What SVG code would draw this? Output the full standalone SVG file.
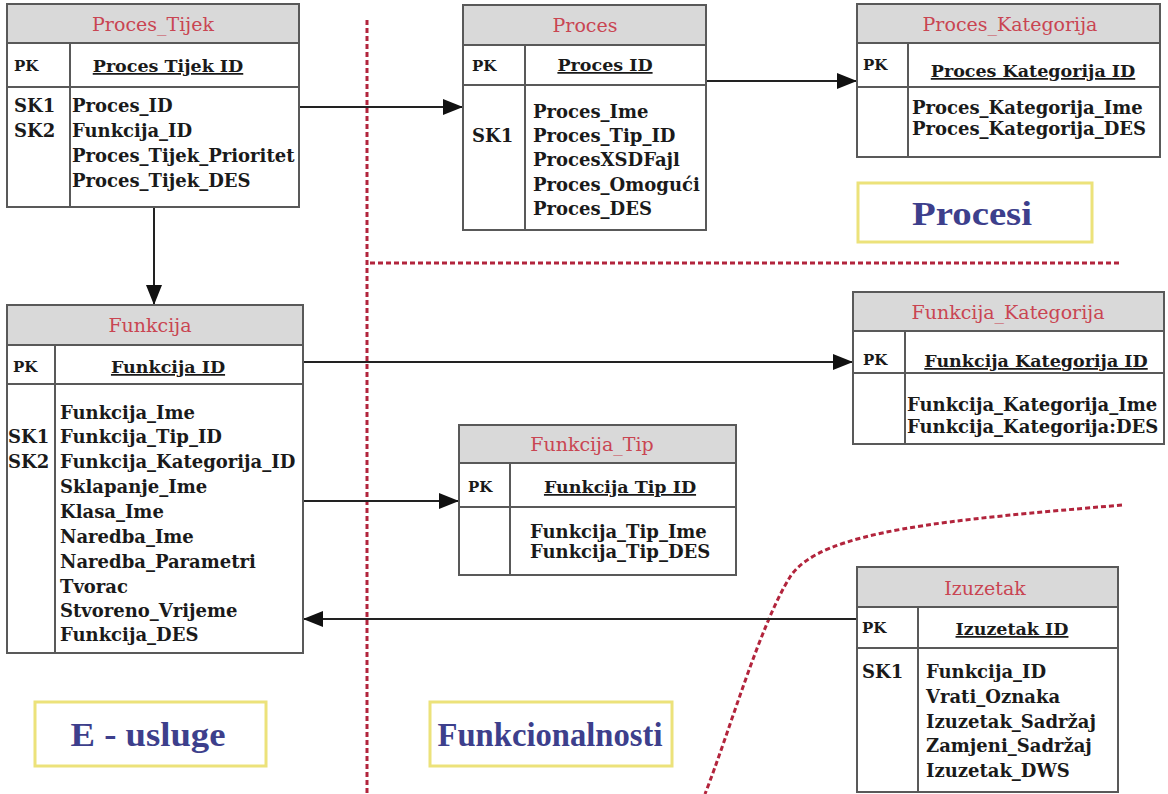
<svg xmlns="http://www.w3.org/2000/svg" width="1168" height="794" viewBox="0 0 1168 794">
<defs>
<style>
.box{fill:#fff;stroke:#595959;stroke-width:2}
.hdr{fill:#d9d9d9;stroke:#595959;stroke-width:2}
.ln{stroke:#595959;stroke-width:2}
.title{font-family:"DejaVu Serif",serif;font-size:19px;fill:#c94552;text-anchor:middle}
.pk{font-family:"DejaVu Serif",serif;font-weight:bold;font-size:15px;fill:#1a1a1a}
.key{font-family:"DejaVu Serif",serif;font-weight:bold;font-size:17.5px;fill:#1a1a1a;text-anchor:middle;text-decoration:underline}
.f{font-family:"DejaVu Serif",serif;font-weight:bold;font-size:18px;fill:#1a1a1a}
.lab{fill:#fff;stroke:#ece27a;stroke-width:3}
.labt{font-family:"Liberation Serif",serif;font-weight:bold;font-size:34px;fill:#3d3f8c;text-anchor:middle}
.sep{fill:none;stroke:#b2243c;stroke-width:3;stroke-dasharray:5 3}
.conn{fill:none;stroke:#222;stroke-width:2}
</style>
<marker id="arr" markerUnits="userSpaceOnUse" markerWidth="22" markerHeight="18" refX="20" refY="8" orient="auto">
<path d="M0,0 L20,8 L0,16 z" fill="#111"/>
</marker>
</defs>
<rect width="1168" height="794" fill="#fff"/>

<g id="separators">
<path class="sep" d="M367,20 V794"/>
<path class="sep" d="M370,263 H1120"/>
<path class="sep" d="M1122,505 C950,520 820,530 790,577 C760,625 730,730 705,794"/>
</g>

<g id="labels">
<g id="label-procesi"><rect class="lab" x="858" y="183" width="234" height="59"/><text class="labt" x="972" y="225" textLength="120" lengthAdjust="spacingAndGlyphs">Procesi</text></g>
<g id="label-eusluge"><rect class="lab" x="35" y="702" width="231" height="64"/><text class="labt" x="148" y="746" textLength="155" lengthAdjust="spacingAndGlyphs">E - usluge</text></g>
<g id="label-funkcionalnosti"><rect class="lab" x="430" y="702" width="242" height="64"/><text class="labt" x="550" y="746" textLength="225" lengthAdjust="spacingAndGlyphs">Funkcionalnosti</text></g>
</g>

<g id="connectors">
<path class="conn" d="M299,107 H463" marker-end="url(#arr)"/>
<path class="conn" d="M706,81 H857" marker-end="url(#arr)"/>
<path class="conn" d="M154,207 V305" marker-end="url(#arr)"/>
<path class="conn" d="M303,362 H853" marker-end="url(#arr)"/>
<path class="conn" d="M303,501 H459" marker-end="url(#arr)"/>
<path class="conn" d="M857,619 H303" marker-end="url(#arr)"/>
</g>

<g id="proces-tijek">
<rect class="box" x="7" y="4" width="292" height="203"/>
<rect class="hdr" x="7" y="4" width="292" height="39"/>
<line class="ln" x1="7" y1="87" x2="299" y2="87"/>
<line class="ln" x1="70" y1="43" x2="70" y2="207"/>
<text class="title" x="153" y="31">Proces_Tijek</text>
<text class="pk" x="14" y="71">PK</text>
<text class="key" x="168" y="72">Proces Tijek ID</text>
<text class="f" x="14" y="112">SK1</text>
<text class="f" x="14" y="137">SK2</text>
<text class="f" x="72" y="112">Proces_ID</text>
<text class="f" x="72" y="137">Funkcija_ID</text>
<text class="f" x="72" y="162">Proces_Tijek_Prioritet</text>
<text class="f" x="72" y="187">Proces_Tijek_DES</text>
</g>

<g id="proces">
<rect class="box" x="463" y="5" width="243" height="225"/>
<rect class="hdr" x="463" y="5" width="243" height="40"/>
<line class="ln" x1="463" y1="85" x2="706" y2="85"/>
<line class="ln" x1="525" y1="45" x2="525" y2="230"/>
<text class="title" x="585" y="32">Proces</text>
<text class="pk" x="472" y="71">PK</text>
<text class="key" x="605" y="71">Proces ID</text>
<text class="f" x="472" y="142">SK1</text>
<text class="f" x="533" y="118">Proces_Ime</text>
<text class="f" x="533" y="142">Proces_Tip_ID</text>
<text class="f" x="533" y="166">ProcesXSDFajl</text>
<text class="f" x="533" y="191">Proces_Omogući</text>
<text class="f" x="533" y="215">Proces_DES</text>
</g>

<g id="proces-kategorija">
<rect class="box" x="857" y="4" width="303" height="153"/>
<rect class="hdr" x="857" y="4" width="303" height="39"/>
<line class="ln" x1="857" y1="87" x2="1160" y2="87"/>
<line class="ln" x1="908" y1="43" x2="908" y2="157"/>
<text class="title" x="1010" y="31">Proces_Kategorija</text>
<text class="pk" x="863" y="70">PK</text>
<text class="key" x="1033" y="77">Proces Kategorija ID</text>
<text class="f" x="912" y="114">Proces_Kategorija_Ime</text>
<text class="f" x="912" y="135">Proces_Kategorija_DES</text>
</g>

<g id="funkcija">
<rect class="box" x="7" y="305" width="296" height="348"/>
<rect class="hdr" x="7" y="305" width="296" height="40"/>
<line class="ln" x1="7" y1="384" x2="303" y2="384"/>
<line class="ln" x1="55" y1="345" x2="55" y2="653"/>
<text class="title" x="150" y="332">Funkcija</text>
<text class="pk" x="13" y="372">PK</text>
<text class="key" x="168" y="373">Funkcija ID</text>
<text class="f" x="8" y="443">SK1</text>
<text class="f" x="8" y="468">SK2</text>
<text class="f" x="60" y="419">Funkcija_Ime</text>
<text class="f" x="60" y="443">Funkcija_Tip_ID</text>
<text class="f" x="60" y="468">Funkcija_Kategorija_ID</text>
<text class="f" x="60" y="493">Sklapanje_Ime</text>
<text class="f" x="60" y="518">Klasa_Ime</text>
<text class="f" x="60" y="543">Naredba_Ime</text>
<text class="f" x="60" y="568">Naredba_Parametri</text>
<text class="f" x="60" y="593">Tvorac</text>
<text class="f" x="60" y="617">Stvoreno_Vrijeme</text>
<text class="f" x="60" y="641">Funkcija_DES</text>
</g>

<g id="funkcija-kategorija">
<rect class="box" x="853" y="292" width="311" height="152"/>
<rect class="hdr" x="853" y="292" width="311" height="39"/>
<line class="ln" x1="853" y1="373" x2="1164" y2="373"/>
<line class="ln" x1="905" y1="331" x2="905" y2="444"/>
<text class="title" x="1008" y="319">Funkcija_Kategorija</text>
<text class="pk" x="863" y="365">PK</text>
<text class="key" x="1036" y="367">Funkcija Kategorija ID</text>
<text class="f" x="907" y="411">Funkcija_Kategorija_Ime</text>
<text class="f" x="907" y="433">Funkcija_Kategorija:DES</text>
</g>

<g id="funkcija-tip">
<rect class="box" x="459" y="425" width="277" height="150"/>
<rect class="hdr" x="459" y="425" width="277" height="38"/>
<line class="ln" x1="459" y1="507" x2="736" y2="507"/>
<line class="ln" x1="510" y1="463" x2="510" y2="575"/>
<text class="title" x="592" y="451">Funkcija_Tip</text>
<text class="pk" x="468" y="492">PK</text>
<text class="key" x="620" y="493">Funkcija Tip ID</text>
<text class="f" x="530" y="538">Funkcija_Tip_Ime</text>
<text class="f" x="530" y="558">Funkcija_Tip_DES</text>
</g>

<g id="izuzetak">
<rect class="box" x="857" y="567" width="261" height="225"/>
<rect class="hdr" x="857" y="567" width="261" height="40"/>
<line class="ln" x1="857" y1="648" x2="1118" y2="648"/>
<line class="ln" x1="918" y1="607" x2="918" y2="792"/>
<text class="title" x="985" y="595">Izuzetak</text>
<text class="pk" x="862" y="633">PK</text>
<text class="key" x="1012" y="635">Izuzetak ID</text>
<text class="f" x="862" y="678">SK1</text>
<text class="f" x="926" y="678">Funkcija_ID</text>
<text class="f" x="926" y="703">Vrati_Oznaka</text>
<text class="f" x="926" y="728">Izuzetak_Sadržaj</text>
<text class="f" x="926" y="752">Zamjeni_Sadržaj</text>
<text class="f" x="926" y="777">Izuzetak_DWS</text>
</g>
</svg>
